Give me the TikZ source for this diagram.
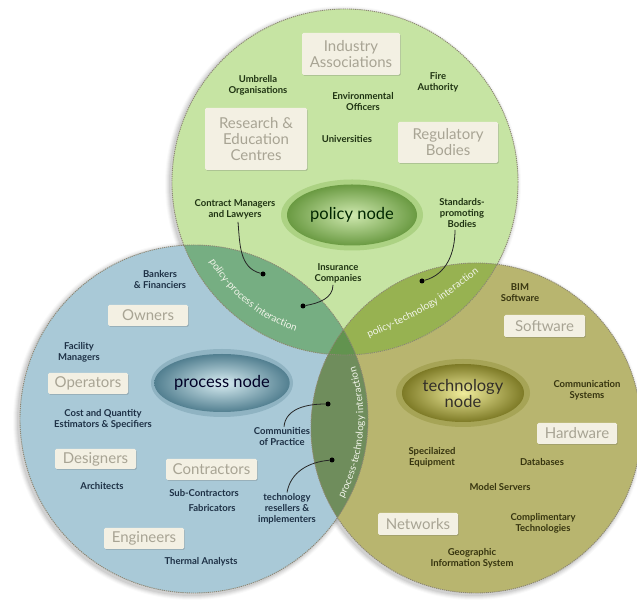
\documentclass[tikz,border=0pt]{standalone}
\usepackage{fontspec}
\setmainfont{Lato}
\usetikzlibrary{shapes.geometric,shadows,decorations.text}
\definecolor{polfill}{HTML}{C6E4A3}
\definecolor{qfill}{HTML}{A9C9D7}
\definecolor{tfill}{HTML}{B8B56F}
\definecolor{pplens}{HTML}{76AE82}
\definecolor{ptlens}{HTML}{97B251}
\definecolor{qtlens}{HTML}{6F8D5C}
\definecolor{triple}{HTML}{62934F}
\definecolor{outl}{HTML}{8C8673}
\definecolor{boxfill}{HTML}{F3F0E3}
\definecolor{boxtext}{HTML}{A8A494}
\definecolor{poltext}{HTML}{1F3312}
\definecolor{qtext}{HTML}{1D3045}
\definecolor{ttext}{HTML}{36340F}
\definecolor{polhalo}{HTML}{ACD283}
\definecolor{polin}{HTML}{CFE9AF}
\definecolor{polout}{HTML}{6A9A42}
\definecolor{qhalo}{HTML}{8FB3C2}
\definecolor{qin}{HTML}{D8EDF2}
\definecolor{qout}{HTML}{527F90}
\definecolor{thalo}{HTML}{A6A456}
\definecolor{tin}{HTML}{F0EC9C}
\definecolor{tout}{HTML}{7D7A26}
\definecolor{inttxt}{HTML}{F2F5EA}
\begin{document}
\begin{tikzpicture}[x=1pt,y=1pt,
  outline/.style={draw=outl, line width=0.9pt, dash pattern=on 1.2pt off 0.9pt},
  catbox/.style={fill=boxfill, rounded corners=1.5pt, text=boxtext, align=center,
     font=\fontsize{15}{16}\selectfont, inner sep=0pt,
     drop shadow={shadow xshift=0.8pt, shadow yshift=-1pt, opacity=0.25, fill=black!60}},
  lab/.style={align=center, font=\bfseries\fontsize{9.5}{11}\selectfont, inner sep=0pt},
  pollab/.style={lab, text=poltext},
  qlab/.style={lab, text=qtext},
  tlab/.style={lab, text=ttext},
  halo/.style={ellipse, inner sep=0pt},
  core/.style={ellipse, inner sep=0pt, align=center, font=\fontsize{16.5}{16}\selectfont},
  dot/.style={circle, fill=black, inner sep=0pt, minimum size=5pt},
  conn/.style={draw=black!85, line width=0.8pt},
  inter/.style={decorate, decoration={text along path, text align=center, text color=inttxt,
     text={|\fontsize{10}{11}\selectfont|#1}}}
]
\useasboundingbox (0,0) rectangle (637,602);
\coordinate (Pc) at (345,420);
\coordinate (Qc) at (194,183);
\coordinate (Tc) at (476,174);
% soft shadows
\foreach \i/\o in {1/0.06,2/0.05,3/0.04,4/0.03,5/0.02}{
  \fill[black,opacity=\o] (343,418) circle[radius=173+\i];
  \fill[black,opacity=\o] (192,181) circle[radius=174+\i];
  \fill[black,opacity=\o] (474,172) circle[radius=165+\i];
}
% circle fills
\fill[qfill] (Qc) circle[radius=174];
\fill[tfill] (Tc) circle[radius=165];
\fill[polfill] (Pc) circle[radius=173];
\begin{scope}\clip (Pc) circle[radius=173]; \fill[pplens] (Qc) circle[radius=174];\end{scope}
\begin{scope}\clip (Pc) circle[radius=173]; \fill[ptlens] (Tc) circle[radius=165];\end{scope}
\begin{scope}\clip (Qc) circle[radius=174]; \fill[qtlens] (Tc) circle[radius=165];\end{scope}
\begin{scope}\clip (Pc) circle[radius=173]; \clip (Qc) circle[radius=174]; \fill[triple] (Tc) circle[radius=165];\end{scope}
\draw[outline] (Pc) circle[radius=173];
\draw[outline] (Qc) circle[radius=174];
\draw[outline] (Tc) circle[radius=165];
% interaction labels
\path[inter={policy-process interaction}] (Pc) ++(200:157) arc[start angle=200, end angle=262, radius=157];
\path[inter={process-technology interaction}] (Qc) ++(-35:169.5) arc[start angle=-35, end angle=25, radius=169.5];
\path[inter={policy-technology interaction}] (355,258) .. controls (428,290) .. (491,339);
% main nodes
\node[halo, minimum width=142pt, minimum height=71pt, fill=polhalo] (polh) at (352,387) {};
\node[core, minimum width=130pt, minimum height=61pt, inner color=polin, outer color=polout, text=black!85!green] (pol) at (352,387) {policy node};
\node[halo, minimum width=142pt, minimum height=68pt, fill=qhalo] (qh) at (222,219) {};
\node[core, minimum width=130pt, minimum height=58pt, inner color=qin, outer color=qout, text=black!85!blue] (proc) at (222,219) {process node};
\node[halo, minimum width=134pt, minimum height=68pt, fill=thalo] (th) at (463,209) {};
\node[core, minimum width=122pt, minimum height=58pt, inner color=tin, outer color=tout, text=black!85!olive] (tech) at (463,209) {technology\\node};
% category boxes
\node[catbox, minimum width=98pt, minimum height=42pt] (ind) at (351,548) {Industry\\Associations};
\node[catbox, minimum width=102pt, minimum height=62pt] (res) at (256,463) {Research \&\\Education\\Centres};
\node[catbox, minimum width=100pt, minimum height=41pt] (reg) at (448,459.5) {Regulatory\\Bodies};
\node[catbox, minimum width=80pt, minimum height=21pt] (own) at (148,286.5) {Owners};
\node[catbox, minimum width=80pt, minimum height=21pt] (ope) at (88,218.5) {Operators};
\node[catbox, minimum width=81pt, minimum height=20pt] (des) at (95.5,143) {Designers};
\node[catbox, minimum width=91pt, minimum height=21pt] (con) at (211.5,132.5) {Contractors};
\node[catbox, minimum width=80pt, minimum height=21pt] (eng) at (144,63.5) {Engineers};
\node[catbox, minimum width=81pt, minimum height=22pt] (sof) at (544.5,276) {Software};
\node[catbox, minimum width=80pt, minimum height=21pt] (har) at (577,168.5) {Hardware};
\node[catbox, minimum width=80pt, minimum height=22pt] (net) at (418,78) {Networks};
% policy labels
\node[pollab] (umb) at (258,517) {Umbrella\\Organisations};
\node[pollab] (env) at (363,500) {Environmental\\Officers};
\node[pollab] (fire) at (438,520) {Fire\\Authority};
\node[pollab] (uni) at (347,463) {Universities};
\node[pollab] (cm) at (235,393) {Contract Managers\\and Lawyers};
\node[pollab] (std) at (462,389) {Standards-\\promoting\\Bodies};
\node[pollab] (ins) at (338,329) {Insurance\\Companies};
% process labels
\node[qlab] (bank) at (160,322.5) {Bankers\\\& Financiers};
\node[qlab] (fac) at (79,250) {Facility\\Managers};
\node[qlab] (cost) at (103,182.5) {Cost and Quantity\\Estimators \& Specifiers};
\node[qlab] (arch) at (102,116) {Architects};
\node[qlab] (sub) at (204,109) {Sub-Contractors};
\node[qlab] (fab) at (212,94) {Fabricators};
\node[qlab] (therm) at (201,40) {Thermal Analysts};
\node[qlab] (com) at (282,165) {Communities\\of Practice};
\node[qlab] (rsl) at (287,93) {technology\\resellers \&\\implementers};
% technology labels
\node[tlab] (bim) at (520,309) {BIM\\Software};
\node[tlab] (comm) at (587,212) {Communication\\Systems};
\node[tlab] (spec) at (432,145) {Specilaized\\Equipment};
\node[tlab] (db) at (542,140) {Databases};
\node[tlab] (ms) at (500,115) {Model Servers};
\node[tlab] (cmpl) at (543,79) {Complimentary\\Technologies};
\node[tlab] (geo) at (472,44) {Geographic\\Information System};
% dots and connectors
\node[dot] (cmd) at (263,328) {};
\node[dot] (insd) at (303,296) {};
\node[dot] (stdd) at (422,321) {};
\node[dot] (comd) at (328,198) {};
\node[dot] (rsld) at (332,142) {};
\draw[conn] ([xshift=3pt,yshift=-3pt]cm.south) to[out=-85,in=165] (cmd);
\draw[conn] ([xshift=-5pt,yshift=-2pt]ins.south) to[out=-90,in=10] (insd);
\draw[conn] ([xshift=-7pt,yshift=-2pt]std.south) to[out=-90,in=15] (stdd);
\draw[conn] ([xshift=2pt,yshift=1pt]com.north) to[out=85,in=180] (comd);
\draw[conn] ([yshift=1pt]rsl.north) to[out=80,in=185] (rsld);
\end{tikzpicture}
\end{document}
